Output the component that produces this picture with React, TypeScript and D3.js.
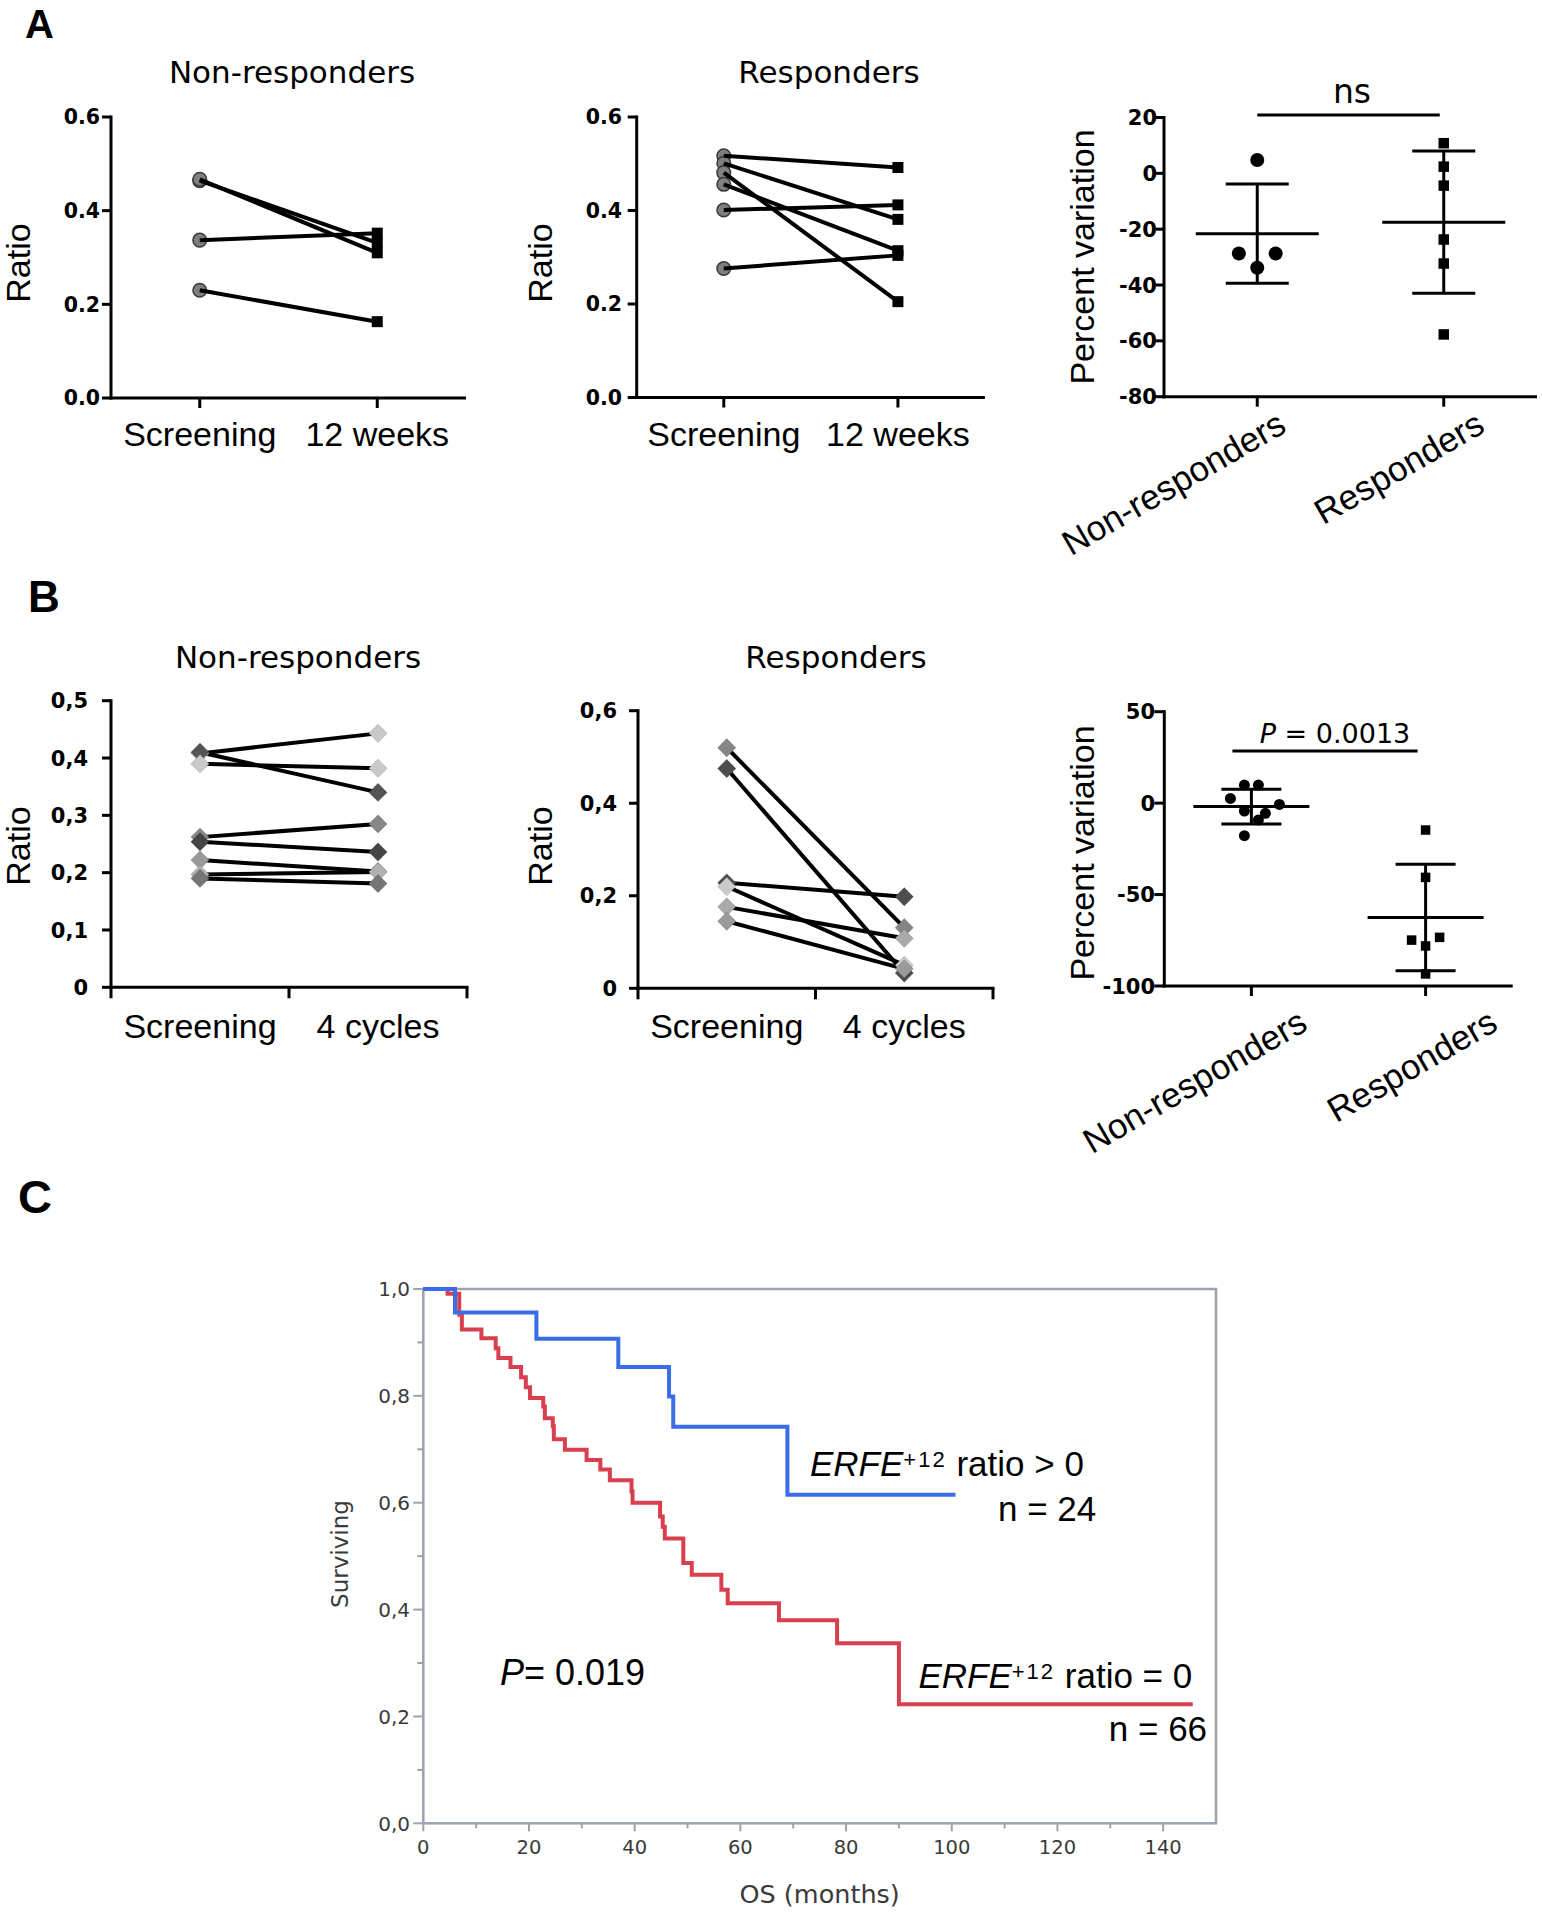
import React from "react";
import * as d3 from "d3";

const ARIAL = "'Liberation Sans', Arial, Helvetica, sans-serif";
const DEJAVU = "'DejaVu Sans', Verdana, sans-serif";

// ---------------- Panel A data ----------------
const aTimes = ["Screening", "12 weeks"];
const aNonRespScreening = [0.464, 0.467, 0.337, 0.23];
const aNonResp12w = [0.331, 0.31, 0.352, 0.163];
const aRespScreening = [0.517, 0.501, 0.481, 0.456, 0.401, 0.276];
const aResp12w = [0.492, 0.381, 0.205, 0.314, 0.412, 0.304];
const aRatioTicks = [0, 0.2, 0.4, 0.6];
const groups = ["Non-responders", "Responders"];
const aVarNonResp = [4.8, -28.7, -28.7, -33.8];
const aVarResp = [10.8, 2.4, -4.4, -23.7, -32.3, -57.7];
const aVarNonRespSlot = [0, -2, 2, 0];
const aVarRespSlot = [0, 0, 0, 0, 0, 0];
const aVarTicks = [-80, -60, -40, -20, 0, 20];

// ---------------- Panel B data ----------------
const bTimes = ["Screening", "4 cycles"];
const bNonRespScreening = [0.408, 0.41, 0.39, 0.262, 0.254, 0.222, 0.197, 0.19];
const bNonResp4c = [0.443, 0.34, 0.382, 0.285, 0.236, 0.202, 0.201, 0.181];
const bNonRespTicks = [0, 0.1, 0.2, 0.3, 0.4, 0.5];
const bRespScreening = [0.52, 0.475, 0.228, 0.22, 0.176, 0.145];
const bResp4c = [0.131, 0.033, 0.198, 0.05, 0.108, 0.042];
const bRespTicks = [0, 0.2, 0.4, 0.6];
const bVarNonResp = [9.9, 9.9, 2.6, -0.7, -4.3, -5.6, -9.2, -17.8];
const bVarResp = [-14.7, -40.6, -74.9, -73.4, -78.1, -93.4];
const bVarNonRespSlot = [-1, 1, -3, 4, -1, 2, 1, -1];
const bVarRespSlot = [0, 0, -2, 2, 0, 0];
const bVarTicks = [-100, -50, 0, 50];

// ---------------- Panel C data ----------------
const kmPosTimes = [6.0, 21.4, 36.9, 46.5, 47.3, 68.9];
const kmPosSurv = [0.956, 0.907, 0.854, 0.799, 0.742, 0.615];
const kmPosEnd = 100.7;
const kmZeroTimes = [4.6, 6.8, 7.3, 11.0, 13.7, 14.2, 16.5, 18.5, 19.4, 20.2, 22.7, 23.0, 24.5, 24.7, 26.8, 30.9, 33.5, 35.3, 39.4, 39.6, 44.8, 45.3, 45.7, 49.2, 50.8, 56.4, 57.6, 67.3, 78.3, 90.0];
const kmZeroSurv = [0.991, 0.952, 0.924, 0.908, 0.889, 0.871, 0.854, 0.835, 0.816, 0.796, 0.78, 0.758, 0.743, 0.719, 0.699, 0.68, 0.662, 0.642, 0.621, 0.6, 0.574, 0.555, 0.533, 0.487, 0.465, 0.437, 0.412, 0.38, 0.337, 0.223];
const kmZeroEnd = 145.6;
const kmXTicks = [0, 20, 40, 60, 80, 100, 120, 140];
const kmYTicks = [0, 0.2, 0.4, 0.6, 0.8, 1.0];

// styles
const bNonRespColors = ["#c9c9c9", "#545454", "#c9c9c9", "#878787", "#454545", "#9a9a9a", "#b2b2b2", "#767676"];
const bRespColors = ["#858585", "#4d4d4d", "#4d4d4d", "#cacaca", "#a9a9a9", "#9a9a9a"];

type PairedProps = {
  left: number; right: number; top: number; bottom: number;
  title: string; titleX: number; yLabelX: number; labelRight: number;
  pre: number[]; post: number[];
};

function PairedA(p: PairedProps) {
  const { left, right, top, bottom } = p;
  const y = d3.scaleLinear().domain([0, 0.6]).range([bottom, top]);
  const x = d3.scalePoint<string>().domain(aTimes).range([left, right]).padding(0.5);
  const x0 = x(aTimes[0]) as number;
  const x1 = x(aTimes[1]) as number;
  const fmt = d3.format(".1f");
  const seg = d3.line<[number, number]>();
  return (
    <g>
      <text x={p.titleX} y={83} textAnchor="middle" fontFamily={DEJAVU} fontSize={31}>{p.title}</text>
      <line x1={left} x2={left} y1={top - 1.5} y2={bottom + 1.5} stroke="#000" strokeWidth={3} />
      <line x1={left - 1.5} x2={right} y1={bottom} y2={bottom} stroke="#000" strokeWidth={3} />
      {aRatioTicks.map((t) => (
        <g key={t}>
          <line x1={left - 9} x2={left} y1={y(t)} y2={y(t)} stroke="#000" strokeWidth={3} />
          <text x={p.labelRight} y={y(t)} dy="0.36em" textAnchor="end" fontFamily={DEJAVU} fontWeight="bold" fontSize={20.5}>{fmt(t)}</text>
        </g>
      ))}
      {aTimes.map((t) => (
        <g key={t}>
          <line x1={x(t)} x2={x(t)} y1={bottom} y2={bottom + 10} stroke="#000" strokeWidth={3} />
          <text x={x(t)} y={446} textAnchor="middle" fontFamily={ARIAL} fontSize={34}>{t}</text>
        </g>
      ))}
      <text transform={`translate(${p.yLabelX},263) rotate(-90)`} textAnchor="middle" fontFamily={ARIAL} fontSize={34}>Ratio</text>
      {p.pre.map((v, i) => (
        <circle key={"c" + i} cx={x0} cy={y(v)} r={6.8} fill="#7f7f7f" stroke="#3a3a3a" strokeWidth={1.5} />
      ))}
      {p.pre.map((v, i) => (
        <path key={"l" + i} d={seg([[x0, y(v)], [x1, y(p.post[i])]]) || ""} stroke="#000" strokeWidth={4} fill="none" />
      ))}
      {p.post.map((v, i) => (
        <rect key={"s" + i} x={x1 - 5.5} y={y(v) - 5.5} width={11} height={11} fill="#000" />
      ))}
    </g>
  );
}

type PairedBProps = {
  left: number; right: number; top: number; bottom: number; ymax: number; ticks: number[];
  title: string; titleX: number; yLabelX: number; labelRight: number;
  pre: number[]; post: number[]; colors: string[];
};

function PairedB(p: PairedBProps) {
  const { left, right, top, bottom } = p;
  const y = d3.scaleLinear().domain([0, p.ymax]).range([bottom, top]);
  const x = d3.scaleBand<string>().domain(bTimes).range([left, right]);
  const bw = x.bandwidth();
  const x0 = (x(bTimes[0]) as number) + bw / 2;
  const x1 = (x(bTimes[1]) as number) + bw / 2;
  const fmt = (v: number) => (v === 0 ? "0" : d3.format(".1f")(v).replace(".", ","));
  const seg = d3.line<[number, number]>();
  const diamond = d3.symbol().type(d3.symbolDiamond2).size(215);
  const tickXs = [left, left + bw, right];
  return (
    <g>
      <text x={p.titleX} y={668} textAnchor="middle" fontFamily={DEJAVU} fontSize={31}>{p.title}</text>
      <line x1={left} x2={left} y1={top - 1.5} y2={bottom + 1.5} stroke="#000" strokeWidth={3} />
      <line x1={left - 1.5} x2={right + 1.5} y1={bottom} y2={bottom} stroke="#000" strokeWidth={3} />
      {p.ticks.map((t) => (
        <g key={t}>
          <line x1={left - 9} x2={left} y1={y(t)} y2={y(t)} stroke="#000" strokeWidth={3} />
          <text x={p.labelRight} y={y(t)} dy="0.36em" textAnchor="end" fontFamily={DEJAVU} fontWeight="bold" fontSize={21}>{fmt(t)}</text>
        </g>
      ))}
      {tickXs.map((tx, i) => (
        <line key={i} x1={tx} x2={tx} y1={bottom} y2={bottom + 11} stroke="#000" strokeWidth={3} />
      ))}
      {bTimes.map((t) => (
        <text key={t} x={(x(t) as number) + bw / 2} y={1038} textAnchor="middle" fontFamily={ARIAL} fontSize={34}>{t}</text>
      ))}
      <text transform={`translate(${p.yLabelX},846) rotate(-90)`} textAnchor="middle" fontFamily={ARIAL} fontSize={34}>Ratio</text>
      {p.pre.map((v, i) => (
        <path key={"l" + i} d={seg([[x0, y(v)], [x1, y(p.post[i])]]) || ""} stroke="#000" strokeWidth={4} fill="none" />
      ))}
      {p.pre.map((v, i) => (
        <g key={"d" + i}>
          <path d={diamond() || ""} transform={`translate(${x0},${y(v)})`} fill={p.colors[i]} stroke="#00000022" strokeWidth={1} />
          <path d={diamond() || ""} transform={`translate(${x1},${y(p.post[i])})`} fill={p.colors[i]} stroke="#00000022" strokeWidth={1} />
        </g>
      ))}
    </g>
  );
}

type VarProps = {
  left: number; right: number; top: number; bottom: number; domain: [number, number]; ticks: number[];
  nr: number[]; r: number[]; nrSlot: number[]; rSlot: number[]; slotStep: number;
  circleR: number; square: number; labelRight: number; yLabelCenter: number;
  meanHalf: number; capHalf: number; barY: number; barOff0: number; barOff1: number;
  stat: React.ReactNode; statX: number; statY: number; statSize: number; rotOffX: number[]; rotY: number;
};

function VarPanel(p: VarProps) {
  const { left, right, top, bottom } = p;
  const y = d3.scaleLinear().domain(p.domain).range([bottom, top]);
  const x = d3.scalePoint<string>().domain(groups).range([left, right]).padding(0.5);
  const xs = groups.map((g) => x(g) as number);
  const sets = [p.nr, p.r];
  const stats = sets.map((s) => {
    const m = d3.mean(s) as number;
    const sd = d3.deviation(s) as number;
    return { m, hi: m + sd, lo: m - sd };
  });
  return (
    <g>
      <line x1={left} x2={left} y1={top - 1.5} y2={bottom + 1.5} stroke="#000" strokeWidth={3} />
      <line x1={left - 1.5} x2={right} y1={bottom} y2={bottom} stroke="#000" strokeWidth={3} />
      {p.ticks.map((t) => (
        <g key={t}>
          <line x1={left - 10} x2={left} y1={y(t)} y2={y(t)} stroke="#000" strokeWidth={3} />
          <text x={p.labelRight} y={y(t)} dy="0.36em" textAnchor="end" fontFamily={DEJAVU} fontWeight="bold" fontSize={21}>{t}</text>
        </g>
      ))}
      {groups.map((g, i) => (
        <g key={g}>
          <line x1={xs[i]} x2={xs[i]} y1={bottom} y2={bottom + 10} stroke="#000" strokeWidth={3} />
          <text transform={`translate(${xs[i] + p.rotOffX[i]},${p.rotY}) rotate(-30)`} textAnchor="end" fontFamily={ARIAL} fontSize={35}>{g}</text>
        </g>
      ))}
      <text transform={`translate(1094,${p.yLabelCenter}) rotate(-90)`} textAnchor="middle" fontFamily={ARIAL} fontSize={34}>Percent variation</text>
      <line x1={xs[0] + p.barOff0} x2={xs[1] + p.barOff1} y1={p.barY} y2={p.barY} stroke="#000" strokeWidth={3} />
      <text x={p.statX} y={p.statY} textAnchor="middle" fontFamily={DEJAVU} fontSize={p.statSize}>{p.stat}</text>
      {stats.map((s, i) => (
        <g key={i} stroke="#000" strokeWidth={3}>
          <line x1={xs[i]} x2={xs[i]} y1={y(s.hi)} y2={y(s.lo)} />
          <line x1={xs[i] - p.capHalf} x2={xs[i] + p.capHalf} y1={y(s.hi)} y2={y(s.hi)} />
          <line x1={xs[i] - p.capHalf} x2={xs[i] + p.capHalf} y1={y(s.lo)} y2={y(s.lo)} />
          <line x1={xs[i] - p.meanHalf} x2={xs[i] + p.meanHalf} y1={y(s.m)} y2={y(s.m)} />
        </g>
      ))}
      {p.nr.map((v, i) => (
        <circle key={"c" + i} cx={xs[0] + p.nrSlot[i] * p.slotStep} cy={y(v)} r={p.circleR} fill="#000" />
      ))}
      {p.r.map((v, i) => (
        <rect key={"s" + i} x={xs[1] + p.rSlot[i] * p.slotStep - p.square / 2} y={y(v) - p.square / 2} width={p.square} height={p.square} fill="#000" />
      ))}
    </g>
  );
}

function KM() {
  const left = 423.3, right = 1216, top = 1289, bottom = 1823.3;
  const x = d3.scaleLinear().domain([0, 150]).range([left, right]);
  const y = d3.scaleLinear().domain([0, 1]).range([bottom, top]);
  const line = d3.line<[number, number]>().x((d) => x(d[0])).y((d) => y(d[1])).curve(d3.curveStepAfter);
  const build = (times: number[], surv: number[], end: number): [number, number][] => [
    [0, 1],
    ...times.map((t, i) => [t, surv[i]] as [number, number]),
    [end, surv[surv.length - 1]],
  ];
  const pos = build(kmPosTimes, kmPosSurv, kmPosEnd);
  const zero = build(kmZeroTimes, kmZeroSurv, kmZeroEnd);
  const frame = "#9ba3ab";
  const minorY = d3.range(0.1, 1, 0.2);
  const minorX = d3.range(10, 150, 20);
  const yfmt = (v: number) => d3.format(".1f")(v).replace(".", ",");
  return (
    <g>
      <rect x={left} y={top} width={right - left} height={bottom - top} fill="none" stroke={frame} strokeWidth={2.5} />
      {kmYTicks.map((t) => (
        <g key={t}>
          <line x1={left - 10} x2={left} y1={y(t)} y2={y(t)} stroke={frame} strokeWidth={2} />
          <text x={410} y={y(t)} dy="0.36em" textAnchor="end" fontFamily={DEJAVU} fontSize={20} fill="#3a3a3a">{yfmt(t)}</text>
        </g>
      ))}
      {minorY.map((t) => (
        <line key={t} x1={left - 6} x2={left} y1={y(t)} y2={y(t)} stroke={frame} strokeWidth={2} />
      ))}
      {kmXTicks.map((t) => (
        <g key={t}>
          <line x1={x(t)} x2={x(t)} y1={bottom} y2={bottom + 8} stroke={frame} strokeWidth={2} />
          <text x={x(t)} y={1853.6} textAnchor="middle" fontFamily={DEJAVU} fontSize={19.5} fill="#3a3a3a">{t}</text>
        </g>
      ))}
      {minorX.map((t) => (
        <line key={t} x1={x(t)} x2={x(t)} y1={bottom} y2={bottom + 5} stroke={frame} strokeWidth={2} />
      ))}
      <text x={(left + right) / 2} y={1903} textAnchor="middle" fontFamily={DEJAVU} fontSize={25.5} fill="#3a3a3a">OS (months)</text>
      <text transform="translate(348,1554) rotate(-90)" textAnchor="middle" fontFamily={DEJAVU} fontSize={23} fill="#3a3a3a">Surviving</text>
      <path d={line(zero) || ""} fill="none" stroke="#d8404f" strokeWidth={4} />
      <path d={line(pos) || ""} fill="none" stroke="#3a6de6" strokeWidth={4} />
      <text x={810} y={1476} fontFamily={ARIAL} fontSize={35}>
        <tspan fontStyle="italic">ERFE</tspan>
        <tspan fontSize={22} dy={-9.5} letterSpacing={2}>+12</tspan>
        <tspan dy={9.5}> ratio &gt; 0</tspan>
      </text>
      <text x={998} y={1520.6} fontFamily={ARIAL} fontSize={35}>n = 24</text>
      <text x={918.4} y={1688} fontFamily={ARIAL} fontSize={35}>
        <tspan fontStyle="italic">ERFE</tspan>
        <tspan fontSize={22} dy={-9.5} letterSpacing={2}>+12</tspan>
        <tspan dy={9.5}> ratio = 0</tspan>
      </text>
      <text x={1108.8} y={1741} fontFamily={ARIAL} fontSize={35}>n = 66</text>
      <text x={500} y={1684.5} fontFamily={ARIAL} fontSize={36}>
        <tspan fontStyle="italic">P</tspan>= 0.019
      </text>
    </g>
  );
}

export default function App() {
  return (
    <svg
      width={1542}
      height={1920}
      viewBox="0 0 1542 1920"
      style={{ position: "absolute", left: 0, top: 0, display: "block", background: "#fff" }}
    >
      <rect x={0} y={0} width={1542} height={1920} fill="#fff" />
      <text x={25} y={38} fontFamily={ARIAL} fontWeight="bold" fontSize={40}>A</text>
      <text x={28} y={612} fontFamily={ARIAL} fontWeight="bold" fontSize={44}>B</text>
      <text x={18} y={1213} fontFamily={ARIAL} fontWeight="bold" fontSize={47}>C</text>

      <PairedA left={111} right={466} top={117} bottom={398} title="Non-responders" titleX={292} yLabelX={30} labelRight={100} pre={aNonRespScreening} post={aNonResp12w} />
      <PairedA left={636.7} right={985} top={117} bottom={397.5} title="Responders" titleX={829} yLabelX={552} labelRight={622} pre={aRespScreening} post={aResp12w} />
      <VarPanel
        left={1164} right={1537} top={117.5} bottom={396.7} domain={[-80, 20]} ticks={aVarTicks}
        nr={aVarNonResp} r={aVarResp} nrSlot={aVarNonRespSlot} rSlot={aVarRespSlot} slotStep={9.2}
        circleR={7} square={10.5} labelRight={1157} yLabelCenter={257}
        meanHalf={61.5} capHalf={31.5} barY={115} barOff0={0} barOff1={-4}
        stat="ns" statX={1352} statY={103} statSize={33} rotOffX={[31, 43]} rotY={431}
      />

      <PairedB left={111} right={467} top={700.7} bottom={987.3} ymax={0.5} ticks={bNonRespTicks} title="Non-responders" titleX={298} yLabelX={30} labelRight={88} pre={bNonRespScreening} post={bNonResp4c} colors={bNonRespColors} />
      <PairedB left={638} right={993} top={710.7} bottom={988.3} ymax={0.6} ticks={bRespTicks} title="Responders" titleX={836} yLabelX={552} labelRight={617} pre={bRespScreening} post={bResp4c} colors={bRespColors} />
      <VarPanel
        left={1164.3} right={1512.7} top={711.7} bottom={986} domain={[-100, 50]} ticks={bVarTicks}
        nr={bVarNonResp} r={bVarResp} nrSlot={bVarNonRespSlot} rSlot={bVarRespSlot} slotStep={7}
        circleR={5.5} square={9.5} labelRight={1155} yLabelCenter={853}
        meanHalf={58} capHalf={30} barY={751} barOff0={-19} barOff1={-8}
        stat={<><tspan fontStyle="italic">P</tspan> = 0.0013</>} statX={1335} statY={743} statSize={27} rotOffX={[58, 74]} rotY={1029}
      />

      <KM />
    </svg>
  );
}
